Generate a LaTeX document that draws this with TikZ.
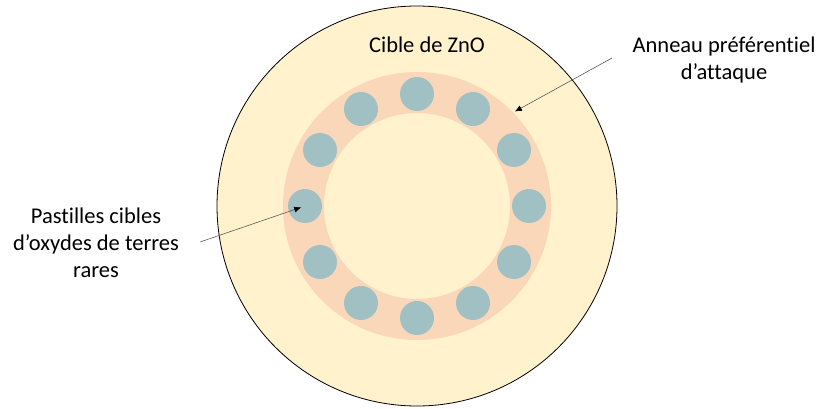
\documentclass[tikz,border=0pt]{standalone}
\usepackage{fontspec}
\setmainfont[Ligatures=NoCommon]{Carlito}
\usetikzlibrary{arrows.meta}
\definecolor{cible}{RGB}{255,242,204}
\definecolor{anneau}{RGB}{251,215,186}
\definecolor{pastille}{RGB}{160,192,196}

\begin{document}
\begin{tikzpicture}[x=1pt, y=-1pt, every node/.style={font=\fontsize{22.5}{27}\selectfont, align=center}, >={Latex[length=7pt, width=6pt, color=black]}]
	\useasboundingbox (0,0) rectangle (821,409);
	\coordinate (c) at (417,206);
	\draw[fill=cible, line width=0.8pt] (c) circle (200);
	\fill[anneau, even odd rule] (c) circle (134) (c) circle (93);
	\foreach \i in {1,...,12} {
		\node[circle, fill=pastille, minimum size=34pt, inner sep=0pt] (p\i) at ([shift={(30*\i:112)}]c) {};
	}
	\node (cible) at (427,45) {Cible de ZnO};
	\node (anneau) at (724,60) {Anneau préférentiel\\d’attaque};
	\node (pastilles) at (96,243) {Pastilles cibles\\d’oxydes de terres\\rares};
	\coordinate (ringtail) at (612,58);
	\coordinate (ringtip) at ([shift={(-44:136)}]c);
	\coordinate (pasttail) at (200,242);
	\draw[->, gray!70!black, line width=0.6pt] (ringtail) -- (ringtip);
	\draw[->, gray!70!black, line width=0.6pt, shorten >=4pt] (pasttail) -- (p6.center);
\end{tikzpicture}
\end{document}
